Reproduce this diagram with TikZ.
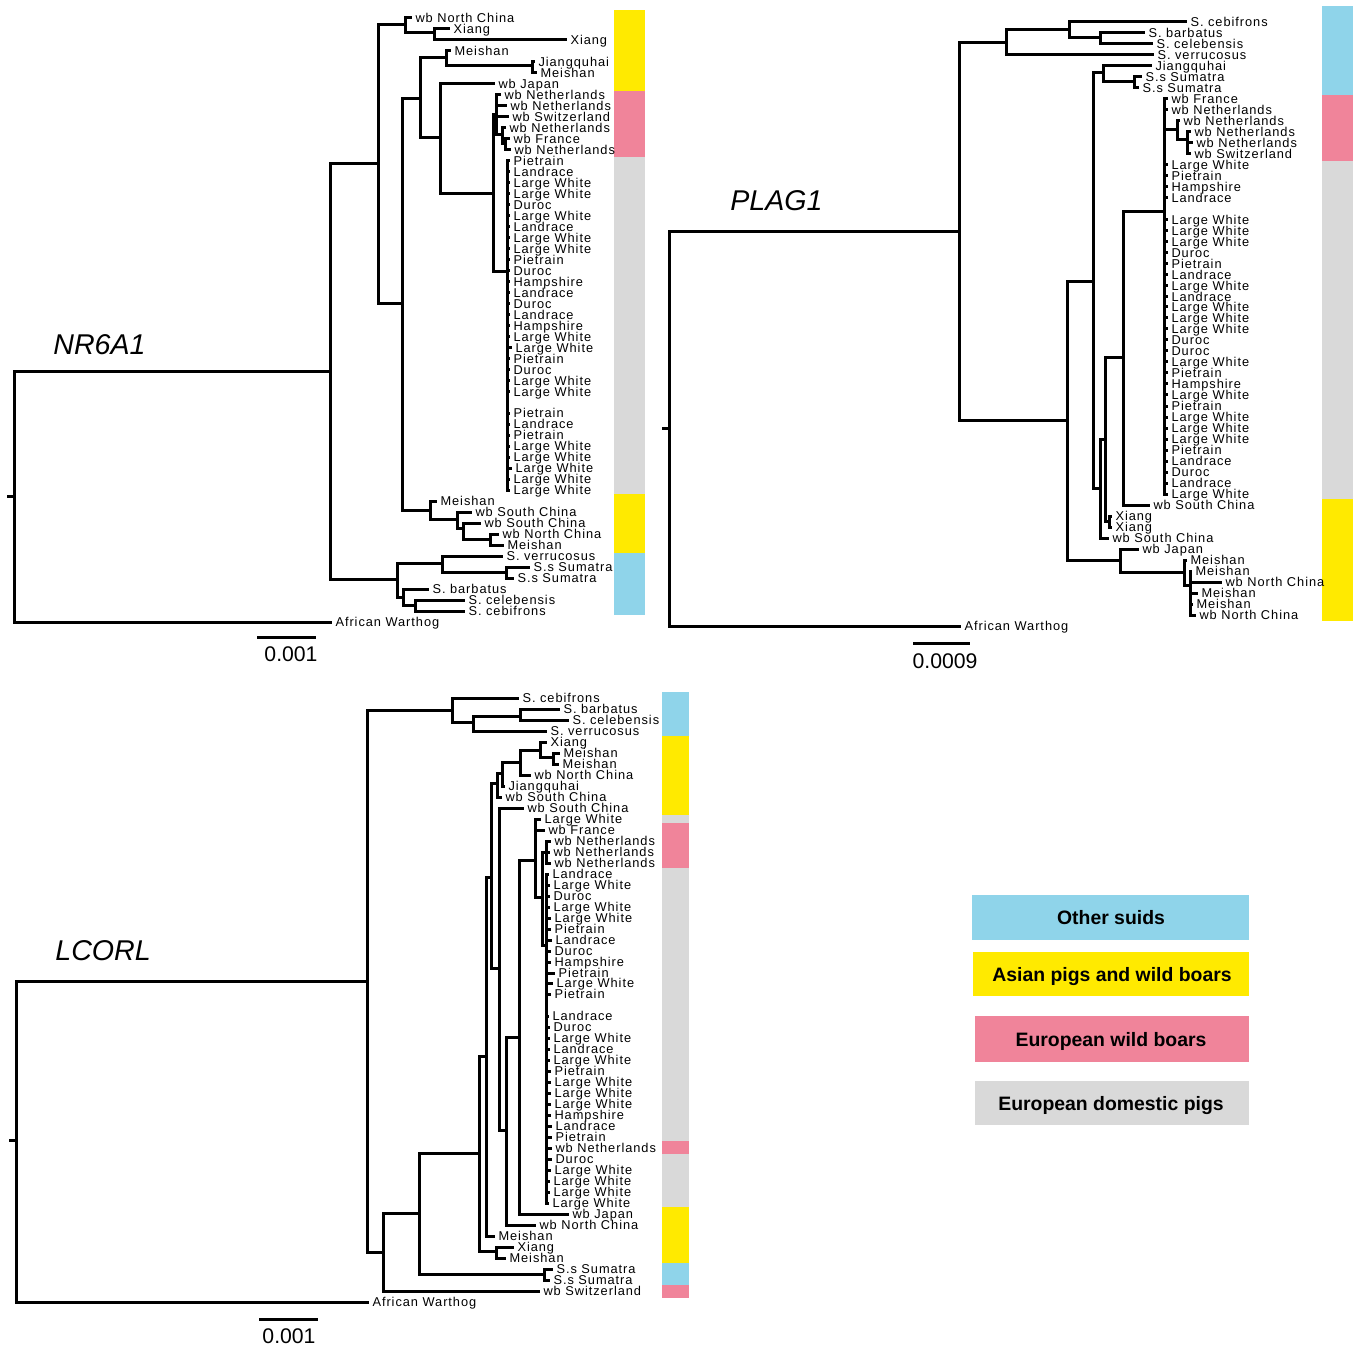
\documentclass[tikz,border=0pt]{standalone}
\usepackage{fontspec}
\setmainfont{Liberation Sans}
\newfontfamily\lblfam[LetterSpace=7.5]{Liberation Sans}
\definecolor{cblue}{HTML}{8FD4EA}
\definecolor{cyel}{HTML}{FFEA00}
\definecolor{cpink}{HTML}{F0849A}
\definecolor{cgray}{HTML}{D9D9D9}
\newcommand{\lblfont}{\lblfam\fontsize{6.4pt}{7pt}\selectfont}
\newcounter{lfc}
\newcommand{\vbr}[3]{\draw[br] (#1,#2) -- (#1,#3);}
\newcommand{\hbr}[3]{\draw[br] (#1,#3) -- (#2,#3);}
\newcommand{\lfb}[4]{\stepcounter{lfc}\draw[br] (#1,#2) -- (#3,#2) node[lbl] (lf\arabic{lfc}) {#4};}
\begin{document}
\begin{tikzpicture}[x=0.5pt,y=-0.5pt,
  br/.style={line width=1.5pt, line cap=rect},
  lbl/.style={anchor=base west, inner sep=0pt, xshift=2pt, yshift=-2.3pt, font=\lblfont},
  ttl/.style={anchor=base west, inner sep=0pt, font=\fontsize{14.3pt}{16pt}\selectfont\itshape},
  scl/.style={anchor=base, inner sep=0pt, font=\fontsize{10.6pt}{12pt}\selectfont},
  legtxt/.style={anchor=base, inner sep=0pt, font=\fontsize{9.7pt}{11pt}\selectfont\bfseries}]
\useasboundingbox (0,0) rectangle (1359,1358);

% ================= NR6A1 =================
\fill[cyel] (614,10) rectangle (645,91);
\fill[cpink] (614,91) rectangle (645,157);
\fill[cgray] (614,157) rectangle (645,494);
\fill[cyel] (614,494) rectangle (645,553);
\fill[cblue] (614,553) rectangle (645,615);
\node[ttl] (t1) at (53,355) {NR6A1};
\draw[line width=1.5pt] (257,637) -- (316,637);
\node[scl] (s1) at (291,661) {0.001};
% root
\vbr{14}{372}{622}
\hbr{8}{14}{496}
\hbr{14}{330}{372}
\lfb{14}{622}{330}{African Warthog}
\vbr{330}{164}{579}
\hbr{330}{378}{164}
\hbr{330}{397}{579}
\vbr{378}{25}{304}
\hbr{378}{405}{25}
\hbr{378}{402}{304}
\vbr{405}{18}{33}
\lfb{405}{18}{410}{wb North China}
\hbr{405}{434}{33}
\vbr{434}{29}{40}
\lfb{434}{29}{448}{Xiang}
\lfb{434}{40}{565}{Xiang}
\vbr{402}{99}{510}
\hbr{402}{420}{99}
\hbr{402}{430}{510}
\vbr{420}{58}{138}
\hbr{420}{446}{58}
\hbr{420}{440}{138}
\vbr{446}{51}{66}
\lfb{446}{51}{449}{Meishan}
\hbr{446}{532}{66}
\vbr{532}{62}{73}
\lfb{532}{62}{533}{Jiangquhai}
\lfb{532}{73}{535}{Meishan}
\vbr{440}{84}{194}
\lfb{440}{84}{493}{wb Japan}
\hbr{440}{493}{194}
\vbr{493}{115}{272}
\hbr{493}{496}{115}
\hbr{493}{507}{272}
\vbr{496}{95}{135}
\lfb{496}{95}{499}{wb Netherlands}
\lfb{496}{106}{505}{wb Netherlands}
\lfb{496}{117}{507}{wb Switzerland}
\hbr{496}{502}{135}
\vbr{502}{128}{144}
\lfb{502}{128}{504}{wb Netherlands}
\hbr{502}{505}{144}
\vbr{505}{139}{150}
\lfb{505}{139}{508}{wb France}
\lfb{505}{150}{509}{wb Netherlands}
\vbr{507}{161}{490}
\lfb{507}{161}{508}{Pietrain}
\lfb{507}{172}{508}{Landrace}
\lfb{507}{183}{508}{Large White}
\lfb{507}{194}{508}{Large White}
\lfb{507}{205}{508}{Duroc}
\lfb{507}{216}{508}{Large White}
\lfb{507}{227}{508}{Landrace}
\lfb{507}{238}{508}{Large White}
\lfb{507}{249}{508}{Large White}
\lfb{507}{260}{508}{Pietrain}
\lfb{507}{271}{508}{Duroc}
\lfb{507}{282}{508}{Hampshire}
\lfb{507}{293}{508}{Landrace}
\lfb{507}{304}{508}{Duroc}
\lfb{507}{315}{508}{Landrace}
\lfb{507}{326}{508}{Hampshire}
\lfb{507}{337}{508}{Large White}
\lfb{507}{348}{510}{Large White}
\lfb{507}{359}{508}{Pietrain}
\lfb{507}{370}{508}{Duroc}
\lfb{507}{381}{508}{Large White}
\lfb{507}{392}{508}{Large White}
\lfb{507}{413}{508}{Pietrain}
\lfb{507}{424}{508}{Landrace}
\lfb{507}{435}{508}{Pietrain}
\lfb{507}{446}{508}{Large White}
\lfb{507}{457}{508}{Large White}
\lfb{507}{468}{510}{Large White}
\lfb{507}{479}{508}{Large White}
\lfb{507}{490}{508}{Large White}
\vbr{430}{501}{519}
\lfb{430}{501}{435}{Meishan}
\hbr{430}{457}{519}
\vbr{457}{512}{528}
\lfb{457}{512}{470}{wb South China}
\hbr{457}{463}{528}
\vbr{463}{523}{539}
\lfb{463}{523}{479}{wb South China}
\hbr{463}{490}{539}
\vbr{490}{534}{545}
\lfb{490}{534}{497}{wb North China}
\lfb{490}{545}{502}{Meishan}
\vbr{397}{563}{597}
\hbr{397}{442}{563}
\hbr{397}{403}{597}
\vbr{442}{556}{572}
\lfb{442}{556}{501}{S. verrucosus}
\hbr{442}{506}{572}
\vbr{506}{567}{578}
\lfb{506}{567}{528}{S.s Sumatra}
\lfb{506}{578}{512}{S.s Sumatra}
\vbr{403}{589}{605}
\lfb{403}{589}{427}{S. barbatus}
\hbr{403}{415}{605}
\vbr{415}{600}{611}
\lfb{415}{600}{463}{S. celebensis}
\lfb{415}{611}{463}{S. cebifrons}

% ================= PLAG1 =================
\fill[cblue] (1322,6) rectangle (1353,95);
\fill[cpink] (1322,95) rectangle (1353,161);
\fill[cgray] (1322,161) rectangle (1353,499);
\fill[cyel] (1322,499) rectangle (1353,621);
\node[ttl] (t2) at (730,211) {PLAG1};
\draw[line width=1.5pt] (913,643) -- (970,643);
\node[scl] (s2) at (945,668) {0.0009};
\vbr{669}{232}{626}
\hbr{663}{669}{428}
\hbr{669}{959}{232}
\lfb{669}{626}{959}{African Warthog}
\vbr{959}{43}{420}
\hbr{959}{1006}{43}
\hbr{959}{1067}{420}
\vbr{1006}{30}{55}
\hbr{1006}{1069}{30}
\lfb{1006}{55}{1152}{S. verrucosus}
\vbr{1069}{22}{38}
\lfb{1069}{22}{1185}{S. cebifrons}
\hbr{1069}{1100}{38}
\vbr{1100}{33}{44}
\lfb{1100}{33}{1143}{S. barbatus}
\lfb{1100}{44}{1151}{S. celebensis}
\vbr{1067}{282}{560}
\hbr{1067}{1093}{282}
\hbr{1067}{1120}{560}
\vbr{1093}{73}{488}
\hbr{1093}{1103}{73}
\hbr{1093}{1100}{488}
\vbr{1103}{66}{82}
\lfb{1103}{66}{1150}{Jiangquhai}
\hbr{1103}{1134}{82}
\vbr{1134}{77}{88}
\lfb{1134}{77}{1140}{S.s Sumatra}
\lfb{1134}{88}{1137}{S.s Sumatra}
\vbr{1100}{439}{538}
\hbr{1100}{1105}{439}
\lfb{1100}{538}{1107}{wb South China}
\vbr{1105}{358}{521}
\hbr{1105}{1123}{358}
\hbr{1105}{1109}{521}
\vbr{1109}{516}{527}
\lfb{1109}{516}{1110}{Xiang}
\lfb{1109}{527}{1110}{Xiang}
\vbr{1123}{212}{505}
\hbr{1123}{1164}{212}
\lfb{1123}{505}{1148}{wb South China}
\vbr{1164}{99}{494}
\lfb{1164}{99}{1166}{wb France}
\lfb{1164}{110}{1166}{wb Netherlands}
\hbr{1164}{1177}{130}
\vbr{1177}{121}{140}
\lfb{1177}{121}{1178}{wb Netherlands}
\hbr{1177}{1187}{140}
\vbr{1187}{132}{154}
\lfb{1187}{132}{1189}{wb Netherlands}
\lfb{1187}{143}{1191}{wb Netherlands}
\lfb{1187}{154}{1189}{wb Switzerland}
\lfb{1164}{165}{1166}{Large White}
\lfb{1164}{176}{1166}{Pietrain}
\lfb{1164}{187}{1166}{Hampshire}
\lfb{1164}{198}{1166}{Landrace}
\lfb{1164}{220}{1166}{Large White}
\lfb{1164}{231}{1166}{Large White}
\lfb{1164}{242}{1166}{Large White}
\lfb{1164}{253}{1166}{Duroc}
\lfb{1164}{264}{1166}{Pietrain}
\lfb{1164}{275}{1166}{Landrace}
\lfb{1164}{286}{1166}{Large White}
\lfb{1164}{297}{1166}{Landrace}
\lfb{1164}{307}{1166}{Large White}
\lfb{1164}{318}{1166}{Large White}
\lfb{1164}{329}{1166}{Large White}
\lfb{1164}{340}{1166}{Duroc}
\lfb{1164}{351}{1166}{Duroc}
\lfb{1164}{362}{1166}{Large White}
\lfb{1164}{373}{1166}{Pietrain}
\lfb{1164}{384}{1166}{Hampshire}
\lfb{1164}{395}{1166}{Large White}
\lfb{1164}{406}{1166}{Pietrain}
\lfb{1164}{417}{1166}{Large White}
\lfb{1164}{428}{1166}{Large White}
\lfb{1164}{439}{1166}{Large White}
\lfb{1164}{450}{1166}{Pietrain}
\lfb{1164}{461}{1166}{Landrace}
\lfb{1164}{472}{1166}{Duroc}
\lfb{1164}{483}{1166}{Landrace}
\lfb{1164}{494}{1166}{Large White}
\vbr{1120}{549}{572}
\lfb{1120}{549}{1137}{wb Japan}
\hbr{1120}{1184}{572}
\vbr{1184}{560}{585}
\lfb{1184}{560}{1185}{Meishan}
\hbr{1184}{1190}{585}
\vbr{1190}{571}{615}
\lfb{1190}{571}{1190}{Meishan}
\lfb{1190}{582}{1220}{wb North China}
\lfb{1190}{593}{1196}{Meishan}
\lfb{1190}{604}{1191}{Meishan}
\lfb{1190}{615}{1194}{wb North China}

% ================= LCORL =================
\fill[cblue] (662,692) rectangle (689,736);
\fill[cyel] (662,736) rectangle (689,815);
\fill[cgray] (662,815) rectangle (689,823);
\fill[cpink] (662,823) rectangle (689,868);
\fill[cgray] (662,868) rectangle (689,1141);
\fill[cpink] (662,1141) rectangle (689,1154);
\fill[cgray] (662,1154) rectangle (689,1207);
\fill[cyel] (662,1207) rectangle (689,1263);
\fill[cblue] (662,1263) rectangle (689,1285);
\fill[cpink] (662,1285) rectangle (689,1298);
\node[ttl] (t3) at (55,960) {LCORL};
\draw[line width=1.5pt] (259,1319) -- (318,1319);
\node[scl] (s3) at (289,1343) {0.001};
\vbr{16}{981}{1302}
\hbr{10}{16}{1140}
\hbr{16}{367}{981}
\lfb{16}{1302}{367}{African Warthog}
\vbr{367}{710}{1252}
\hbr{367}{452}{710}
\hbr{367}{383}{1252}
\vbr{452}{698}{722}
\lfb{452}{698}{517}{S. cebifrons}
\hbr{452}{473}{722}
\vbr{473}{716}{731}
\hbr{473}{520}{716}
\lfb{473}{731}{545}{S. verrucosus}
\vbr{520}{709}{720}
\lfb{520}{709}{558}{S. barbatus}
\lfb{520}{720}{567}{S. celebensis}
\vbr{383}{1213}{1291}
\hbr{383}{419}{1213}
\lfb{383}{1291}{538}{wb Switzerland}
\vbr{419}{1153}{1274}
\hbr{419}{479}{1153}
\hbr{419}{544}{1274}
\vbr{544}{1269}{1280}
\lfb{544}{1269}{551}{S.s Sumatra}
\lfb{544}{1280}{548}{S.s Sumatra}
\vbr{479}{1056}{1251}
\hbr{479}{486}{1056}
\hbr{479}{496}{1251}
\vbr{496}{1247}{1258}
\lfb{496}{1247}{512}{Xiang}
\lfb{496}{1258}{504}{Meishan}
\vbr{486}{877}{1236}
\hbr{486}{491}{877}
\lfb{486}{1236}{493}{Meishan}
\vbr{491}{783}{968}
\hbr{491}{497}{783}
\hbr{491}{499}{968}
\vbr{497}{773}{797}
\hbr{497}{502}{773}
\lfb{497}{797}{500}{wb South China}
\vbr{502}{762}{786}
\hbr{502}{520}{762}
\lfb{502}{786}{503}{Jiangquhai}
\vbr{520}{750}{775}
\hbr{520}{540}{750}
\lfb{520}{775}{529}{wb North China}
\vbr{540}{742}{757}
\lfb{540}{742}{545}{Xiang}
\hbr{540}{553}{757}
\vbr{553}{753}{764}
\lfb{553}{753}{558}{Meishan}
\lfb{553}{764}{557}{Meishan}
\vbr{499}{808}{1130}
\lfb{499}{808}{522}{wb South China}
\hbr{499}{506}{1130}
\vbr{506}{1037}{1225}
\hbr{506}{519}{1037}
\lfb{506}{1225}{534}{wb North China}
\vbr{519}{860}{1214}
\hbr{519}{535}{860}
\lfb{519}{1214}{567}{wb Japan}
\vbr{535}{819}{897}
\lfb{535}{819}{539}{Large White}
\lfb{535}{830}{543}{wb France}
\hbr{535}{542}{897}
\vbr{542}{852}{945}
\hbr{542}{546}{852}
\hbr{542}{546}{945}
\vbr{546}{841}{863}
\lfb{546}{841}{549}{wb Netherlands}
\lfb{546}{852}{548}{wb Netherlands}
\lfb{546}{863}{549}{wb Netherlands}
\vbr{546}{874}{1203}
\lfb{546}{874}{547}{Landrace}
\lfb{546}{885}{548}{Large White}
\lfb{546}{896}{548}{Duroc}
\lfb{546}{907}{548}{Large White}
\lfb{546}{918}{549}{Large White}
\lfb{546}{929}{549}{Pietrain}
\lfb{546}{940}{550}{Landrace}
\lfb{546}{951}{549}{Duroc}
\lfb{546}{962}{549}{Hampshire}
\lfb{546}{973}{553}{Pietrain}
\lfb{546}{983}{551}{Large White}
\lfb{546}{994}{549}{Pietrain}
\lfb{546}{1016}{547}{Landrace}
\lfb{546}{1027}{548}{Duroc}
\lfb{546}{1038}{548}{Large White}
\lfb{546}{1049}{548}{Landrace}
\lfb{546}{1060}{548}{Large White}
\lfb{546}{1071}{549}{Pietrain}
\lfb{546}{1082}{549}{Large White}
\lfb{546}{1093}{549}{Large White}
\lfb{546}{1104}{549}{Large White}
\lfb{546}{1115}{549}{Hampshire}
\lfb{546}{1126}{550}{Landrace}
\lfb{546}{1137}{550}{Pietrain}
\lfb{546}{1148}{550}{wb Netherlands}
\lfb{546}{1159}{550}{Duroc}
\lfb{546}{1170}{549}{Large White}
\lfb{546}{1181}{548}{Large White}
\lfb{546}{1192}{548}{Large White}
\lfb{546}{1203}{547}{Large White}

% ================= Legend =================
\fill[cblue] (972,895) rectangle (1249,940);
\node[legtxt] (leg1) at (1111,924) {Other suids};
\fill[cyel] (973,952) rectangle (1249,996);
\node[legtxt] (leg2) at (1112,981) {Asian pigs and wild boars};
\fill[cpink] (975,1016) rectangle (1249,1062);
\node[legtxt] (leg3) at (1111,1046) {European wild boars};
\fill[cgray] (975,1081) rectangle (1249,1125);
\node[legtxt] (leg4) at (1111,1110) {European domestic pigs};
\end{tikzpicture}
\end{document}
